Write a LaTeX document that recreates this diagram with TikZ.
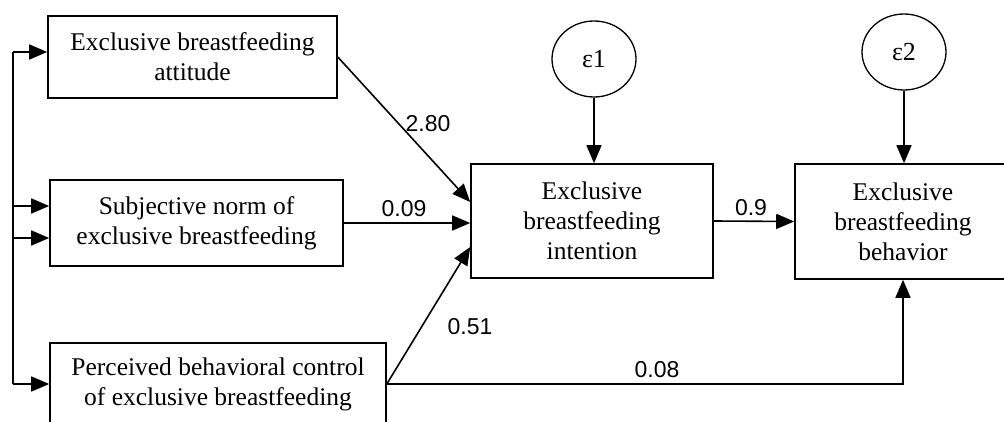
\documentclass[tikz,border=0pt]{standalone}
\usepackage{fontspec}
\setmainfont{Liberation Serif}
\newfontfamily\numfont{Liberation Sans}
\usetikzlibrary{arrows.meta,calc,shapes.geometric}
\begin{document}
\begin{tikzpicture}[x=1pt,y=-1pt,
  box/.style={draw,line width=1.6pt,inner sep=0pt,align=center,
    font=\fontsize{25.5}{30}\selectfont},
  err/.style={draw,ellipse,line width=1.3pt,inner sep=0pt,minimum width=84pt,minimum height=76pt,
    font=\fontsize{26}{28}\selectfont},
  conn/.style={line width=1.6pt},
  arr/.style={conn,-{Triangle[length=18pt,width=15pt]}},
  lab/.style={font=\numfont\fontsize{23}{25}\selectfont,inner sep=0pt}]
\useasboundingbox (0,0) rectangle (1004,422);
\clip (0,0) rectangle (1004,422);
\fill[white] (0,0) rectangle (1004,422);

\node[box,minimum width=289pt,minimum height=82pt] (A) at (192.5,57) {Exclusive breastfeeding\\attitude};
\node[box,minimum width=293pt,minimum height=86pt] (B) at (196.5,223) {Subjective norm of\\exclusive breastfeeding};
\node[box,minimum width=336pt,minimum height=82pt] (C) at (218,384) {Perceived behavioral control\\of exclusive breastfeeding};
\node[box,minimum width=242pt,minimum height=114pt] (I) at (592,221) {Exclusive\\breastfeeding\\intention};
\node[box,minimum width=216pt,minimum height=115pt] (Bh) at (903,221.5) {Exclusive\\breastfeeding\\behavior};
\node[err] (e1) at (594,59) {ε1};
\node[err] (e2) at (904,52) {ε2};

% left bus
\coordinate (t) at (13,52);
\coordinate (b1) at (13,206);
\coordinate (b2) at (13,238);
\coordinate (b) at (13,384);
\draw[conn] (t) -- (b);
\draw[arr] (t) -- (t -| A.west);
\draw[arr] (b1) -- (b1 -| B.west);
\draw[arr] (b2) -- (b2 -| B.west);
\draw[arr] (b) -- (b -| C.west);

% paths into intention
\draw[arr] (A.east) -- ($(I.west)+(0,-19)$);
\draw[arr] (B.east) -- (B.east -| I.west);
\draw[arr] (C.east) -- ($(I.west)+(0,26)$);
\draw[arr] (I.east) -- (Bh.west);
\draw[arr] (C.east) -- (C.east -| Bh.south) -- (Bh.south);
\draw[arr] (e1.south) -- (e1.south |- I.north);
\draw[arr] (e2.south) -- (e2.south |- Bh.north);

% labels
\node[lab] (l1) at (428,124) {2.80};
\node[lab] (l2) at (404,209) {0.09};
\node[lab] (l3) at (470,327) {0.51};
\node[lab] (l4) at (751,208) {0.9};
\node[lab] (l5) at (657,370) {0.08};
\end{tikzpicture}
\end{document}
